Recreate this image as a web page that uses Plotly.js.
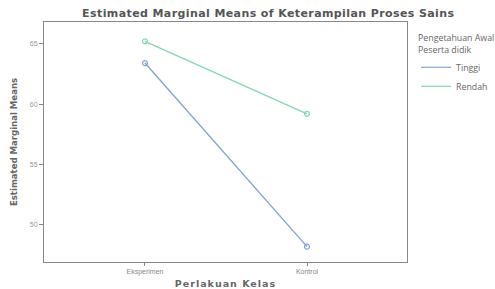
<!DOCTYPE html>
<html><head><meta charset="utf-8">
<script src="https://cdn.plot.ly/plotly-3.0.1.min.js"></script>
<style>html,body{margin:0;padding:0;background:#fff;}#chart{width:495px;height:289px;}
.gtitle{letter-spacing:0.4px;}
.g-xtitle text{letter-spacing:1px;}
</style>
</head><body><div id="chart"></div>
<script>
const categories = ["Eksperimen", "Kontrol"];
const seriesNames = ["Tinggi", "Rendah"];
const tinggi = [63.4, 48.2];
const rendah = [65.2, 59.2];
const yTicks = [50, 55, 60, 65];
const colors = ["#86a3d6", "#86d8b0"];

const xIdx = categories.map((c, i) => i);
const data = [tinggi, rendah];
const traces = [];
data.forEach((vals, i) => {
  traces.push({x: xIdx, y: vals, name: seriesNames[i], type: "scatter", mode: "lines+markers",
    showlegend: false,
    line: {color: colors[i], width: 1.4},
    marker: {symbol: "circle-open", size: 5, color: colors[i], line: {width: 1.2}}});
});
seriesNames.forEach((n, i) => {
  traces.push({x: [null], y: [null], name: n, type: "scatter", mode: "lines",
    line: {color: colors[i], width: 1.2}, hoverinfo: "skip"});
});
const layout = {
  width: 495, height: 289,
  margin: {l: 44, r: 88, t: 22, b: 27, autoexpand: false},
  paper_bgcolor: "#fff", plot_bgcolor: "#fff",
  showlegend: true,
  title: {text: "<b>Estimated Marginal Means of Keterampilan Proses Sains</b>",
          font: {family: "DejaVu Sans", size: 11, color: "#555"},
          x: 0.542, xanchor: "center", y: 0.955, yanchor: "middle"},
  xaxis: {range: [-0.623, 1.617], tickvals: xIdx, ticktext: categories,
          showgrid: false, zeroline: false, showline: true, linecolor: "#888", linewidth: 1, mirror: true,
          ticks: "outside", ticklen: 3, tickcolor: "#888",
          tickfont: {family: "Liberation Sans, Arial", size: 7, color: "#888"},
          title: {text: "<b>Perlakuan Kelas</b>", standoff: 4,
                  font: {family: "DejaVu Sans", size: 9.5, color: "#666"}}},
  yaxis: {range: [46.93, 66.8], tickvals: yTicks,
          showgrid: false, zeroline: false, showline: true, linecolor: "#888", linewidth: 1, mirror: true,
          ticks: "outside", ticklen: 4, tickcolor: "#888",
          tickfont: {family: "Liberation Sans, Arial", size: 7, color: "#999"},
          title: {text: "<b>Estimated Marginal Means</b>", standoff: 10,
                  font: {family: "Liberation Sans Narrow, DejaVu Sans Condensed, Arial", size: 9.5, color: "#666"}}},
  legend: {x: 1.025, xanchor: "left", y: 0.967, yanchor: "top",
           font: {family: "Open Sans, Calibri, Carlito", size: 8.8, color: "#666"},
           title: {text: "Pengetahuan Awal<br>Peserta didik", font: {family: "Open Sans", size: 8.8, color: "#666"}},
           itemwidth: 30, tracegroupgap: 0, bgcolor: "rgba(0,0,0,0)"}
};
Plotly.newPlot("chart", traces, layout, {displayModeBar: false, staticPlot: true});
</script></body></html>
